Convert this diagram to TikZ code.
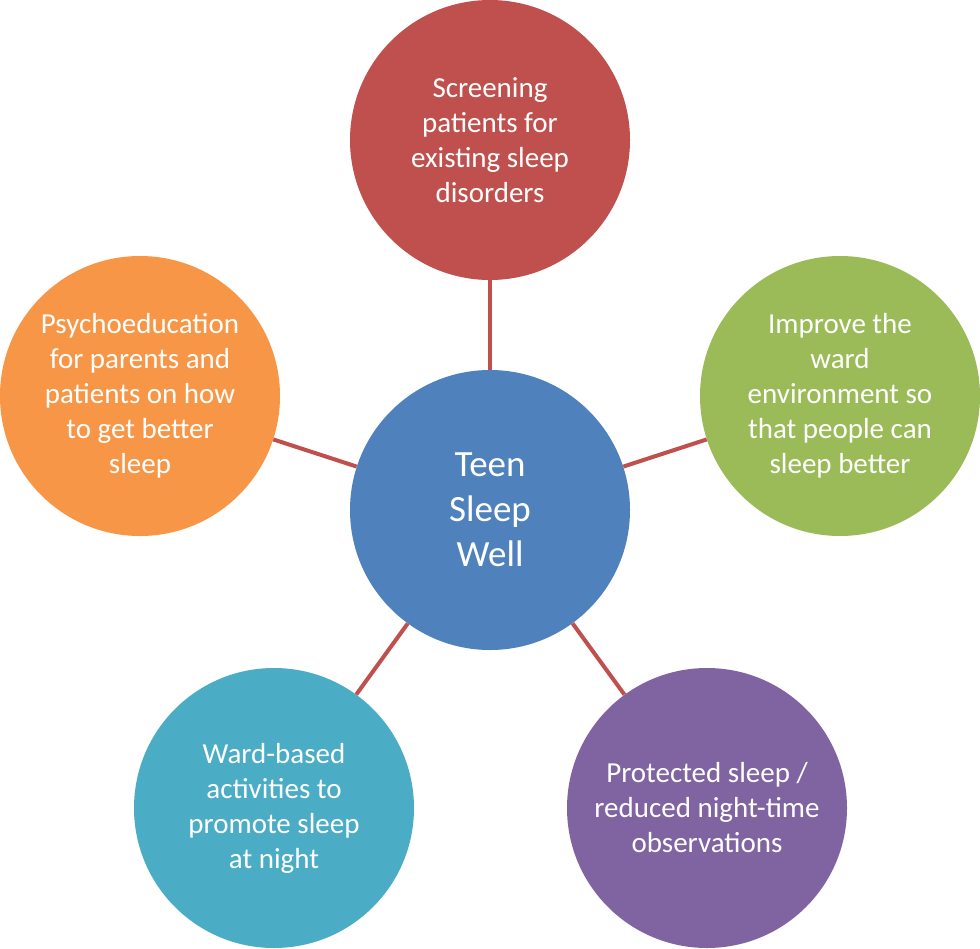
\documentclass[tikz,border=0pt]{standalone}
\usepackage{fontspec}
\setmainfont{Carlito}
\definecolor{cred}{HTML}{C0504D}
\definecolor{cblue}{HTML}{4F81BD}
\definecolor{cgreen}{HTML}{9BBB59}
\definecolor{cpurple}{HTML}{8064A2}
\definecolor{cteal}{HTML}{4BACC6}
\definecolor{corange}{HTML}{F79646}
\tikzset{
  bubble/.style={circle, minimum size=280pt, inner sep=0pt, text=white, align=center,
    font=\fontsize{29}{35}\selectfont},
  hub/.style={bubble, font=\fontsize{37}{45}\selectfont},
  link/.style={draw=cred, line width=4pt}
}
\begin{document}
\begin{tikzpicture}[x=1pt,y=-1pt]
\fill[white] (0,0) rectangle (980,948);
\useasboundingbox (0,0) rectangle (980,948);
\node[hub, fill=cblue] (c) at (490,510) {Teen\\Sleep\\Well};
\node[bubble, fill=cred] (t) at (490,140) {Screening\\patients for\\existing sleep\\disorders};
\node[bubble, fill=cgreen] (r) at (840,396) {Improve the\\ward\\environment so\\that people can\\sleep better};
\node[bubble, fill=cpurple] (br) at (707,808) {Protected sleep /\\reduced night-time\\observations};
\node[bubble, fill=cteal] (bl) at (274,808) {Ward-based\\activities to\\promote sleep\\at night};
\node[bubble, fill=corange] (l) at (140,396) {Psychoeducation\\for parents and\\patients on how\\to get better\\sleep};
\draw[link] (c) -- (t);
\draw[link] (c) -- (r);
\draw[link] (c) -- (br);
\draw[link] (c) -- (bl);
\draw[link] (c) -- (l);
\end{tikzpicture}
\end{document}
